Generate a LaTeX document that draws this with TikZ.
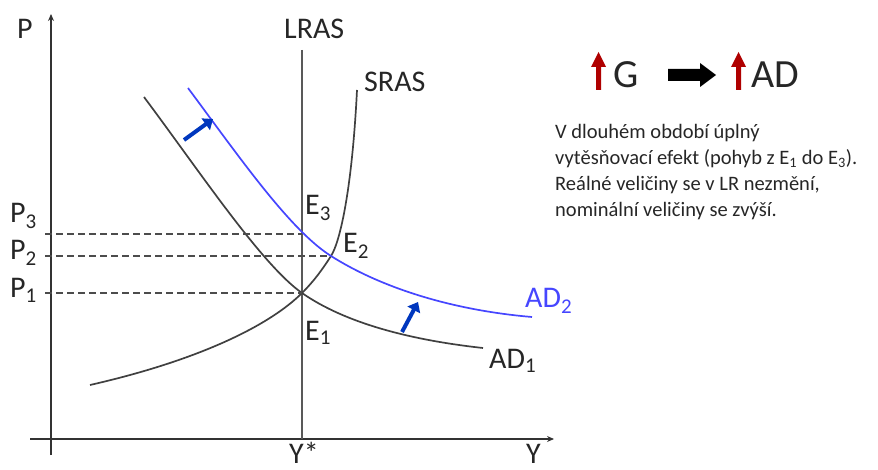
\documentclass[tikz,border=0pt]{standalone}
\usepackage{fontspec}
\setmainfont{Carlito}
\usetikzlibrary{arrows.meta}
\definecolor{adblue}{RGB}{70,70,255}
\definecolor{shiftblue}{RGB}{0,55,190}
\definecolor{upred}{RGB}{175,0,0}
\begin{document}
\begin{tikzpicture}[x=1pt,y=-1pt]
    \tikzset{
      axis/.style={line width=1.4pt, black!80, -{Stealth[length=7pt,width=6pt]}},
      curve/.style={line width=1.7pt, black!75},
      guide/.style={line width=1.3pt, black!70, dash pattern=on 7pt off 4pt},
      adshift/.style={line width=4pt, shiftblue, -{Triangle[length=9pt,width=14pt]}},
      lbl/.style={inner sep=0pt, anchor=base west, black!85,
        font=\fontsize{30}{34}\selectfont},
    }
    \useasboundingbox (0,0) rectangle (878,470);
    % axes
    \draw[axis] (30,439) -- (554,439);
    \draw[axis] (51,455) -- (51,14);
    % LRAS
    \draw[line width=1.6pt, black!65] (302,50) -- (302,439);
    \coordinate (E1) at (302,293);
    \coordinate (E2) at (331,256);
    \coordinate (E3) at (302,234);
    % SRAS
    \draw[curve] (90,385) .. controls (200,360) and (270,325) .. (E1)
      .. controls (314,281) and (322,270) .. (E2)
      .. controls (340,242) and (352,190) .. (357,90);
    % AD1
    \draw[curve] (144,97) .. controls (200,172) and (262,265) .. (E1)
      .. controls (345,323) and (410,340) .. (483,348);
    % AD2
    \draw[line width=1.7pt, adblue] (188,88) .. controls (240,158) and (290,230) .. (E2)
      .. controls (380,287) and (450,310) .. (532,317);
    % price levels
    \draw[guide] (45,234) -- (E3);
    \draw[guide] (45,256) -- (E2);
    \draw[guide] (45,293) -- (E1);
    % shift of AD
    \draw[adshift] (184,140) -- (213,119);
    \draw[adshift] (402,332) -- (418,302);
    %
    \node[lbl] (p) at (17,39) {P};
    \node[lbl] (p3) at (10,223) {P\textsubscript{3}};
    \node[lbl] (p2) at (10,260) {P\textsubscript{2}};
    \node[lbl] (p1) at (10,298) {P\textsubscript{1}};
    \node[lbl] (lras) at (284,39) {LRAS};
    \node[lbl] (sras) at (364,92) {SRAS};
    \node[lbl] (e3) at (305,215) {E\textsubscript{3}};
    \node[lbl] (e2) at (343,253) {E\textsubscript{2}};
    \node[lbl] (e1) at (305,340) {E\textsubscript{1}};
    \node[lbl, adblue] (ad2) at (525,308) {AD\textsubscript{2}};
    \node[lbl] (ad1) at (489,368) {AD\textsubscript{1}};
    \node[lbl] (ystar) at (289,463) {Y*};
    \node[lbl] (y) at (526,463) {Y};
    % G -> AD
    \fill[upred] (596,90) -- (596,67) -- (591,67) -- (598.5,52) -- (606,67)
      -- (601,67) -- (601,90) -- cycle;
    \node[lbl, font=\fontsize{40}{44}\selectfont] (g) at (613,88) {G};
    \fill[black] (668,69) -- (700,69) -- (700,63) -- (716,75) -- (700,87)
      -- (700,81) -- (668,81) -- cycle;
    \fill[upred] (736,90) -- (736,67) -- (731,67) -- (738.5,52) -- (746,67)
      -- (741,67) -- (741,90) -- cycle;
    \node[lbl, font=\fontsize{40}{44}\selectfont] (ad) at (751,88) {AD};
    \node[inner sep=0pt, anchor=north west, align=left, black!85,
      font=\fontsize{20.5}{26}\selectfont] (txt) at (555,124)
      {V dlouhém období úplný\\
       vytěsňovací efekt (pohyb z E\textsubscript{1} do E\textsubscript{3}).\\
       Reálné veličiny se v LR nezmění,\\
       nominální veličiny se zvýší.};
\end{tikzpicture}
\end{document}
